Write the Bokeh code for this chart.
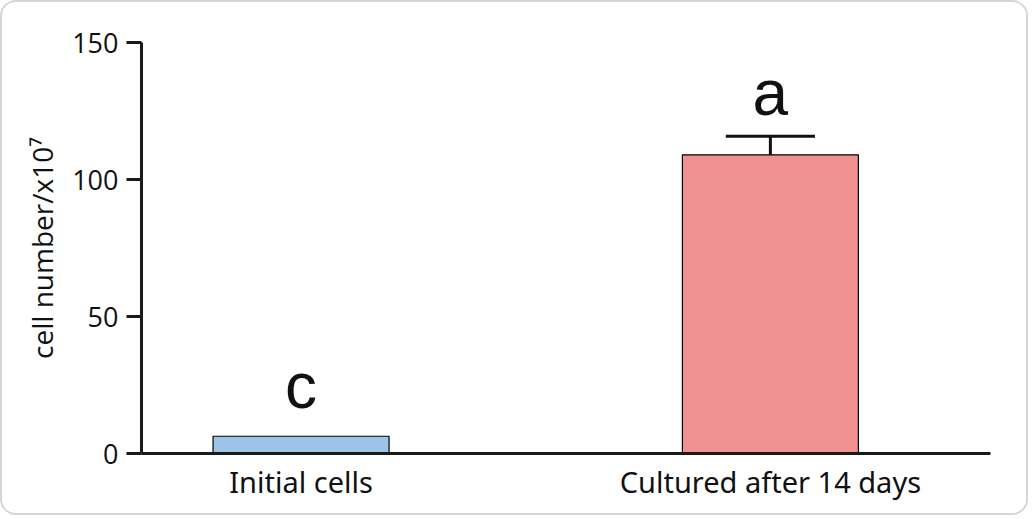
from bokeh.plotting import figure
from bokeh.models import Range1d, FixedTicker, ColumnDataSource
from bokeh.core.properties import value
from bokeh.embed import file_html
from bokeh.resources import INLINE

categories = ["Initial cells", "Cultured after 14 days"]
means = [6.3, 109.0]
errors = [0.0, 6.8]
letters = ["c", "a"]
colors = ["#9DC3E6", "#F09090"]
y_ticks = [0, 50, 100, 150]

xs = [i + 1 for i in range(len(categories))]

p = figure(width=1028, height=515, output_backend="svg", toolbar_location=None,
           x_range=Range1d(0.660, 2.469), y_range=Range1d(0, 150),
           min_border_left=139, min_border_right=40, min_border_top=40, min_border_bottom=64)
p.styles = {"position": "absolute", "left": "0px", "top": "0px",
            "border": "2px solid #d4d4d4", "border-radius": "16px",
            "overflow": "hidden", "background": "white"}
p.outline_line_color = None
p.grid.visible = False
p.background_fill_color = "white"
p.border_fill_color = "white"

src = ColumnDataSource(dict(x=xs, top=means, color=colors))
p.vbar(x="x", top="top", width=0.375, bottom=0, fill_color="color", line_color="black",
       line_width=1.2, source=src)

ex = [x for x, e in zip(xs, errors) if e > 0]
em = [m for m, e in zip(means, errors) if e > 0]
ee = [m + e for m, e in zip(means, errors) if e > 0]
p.segment(x0=ex, y0=em, x1=ex, y1=ee, line_color="#111111", line_width=3)
cap = 0.19 / 2
p.segment(x0=[x - cap for x in ex], y0=ee, x1=[x + cap for x in ex], y1=ee,
          line_color="#111111", line_width=3)

label_y = [m + e for m, e in zip(means, errors)]
p.text(x=xs, y=label_y, text=letters, text_align="center", text_baseline="alphabetic",
       y_offset=[-43 if e > 0 else -50 for e in errors],
       text_font=value("Liberation Sans"), text_font_size="64px", text_color="#111111")

# y axis
ya = p.yaxis[0]
ya.ticker = FixedTicker(ticks=y_ticks)
ya.minor_tick_line_color = None
ya.major_tick_out = 15
ya.major_tick_in = 0
ya.major_tick_line_width = 3
ya.major_tick_line_color = "#1a1a1a"
ya.axis_line_width = 3
ya.axis_line_color = "#1a1a1a"
ya.major_label_text_font = "Open Sans"
ya.major_label_text_font_size = "27px"
ya.major_label_text_color = "#111111"
ya.major_label_standoff = 8
ya.axis_label = "cell number/x10\u2077"
ya.axis_label_text_font = "Open Sans"
ya.axis_label_text_font_size = "28px"
ya.axis_label_text_font_style = "normal"
ya.axis_label_text_color = "#111111"
ya.axis_label_standoff = 8

# x axis
xa = p.xaxis[0]
xa.ticker = FixedTicker(ticks=xs)
xa.major_label_overrides = {x: c for x, c in zip(xs, categories)}
xa.major_tick_line_color = None
xa.minor_tick_line_color = None
xa.axis_line_width = 3
xa.axis_line_color = "#1a1a1a"
xa.major_label_text_font = "Noto Sans"
xa.major_label_text_font_size = "29px"
xa.major_label_text_color = "#111111"
xa.major_label_standoff = 2

open("out.html", "w").write(file_html(p, INLINE))
